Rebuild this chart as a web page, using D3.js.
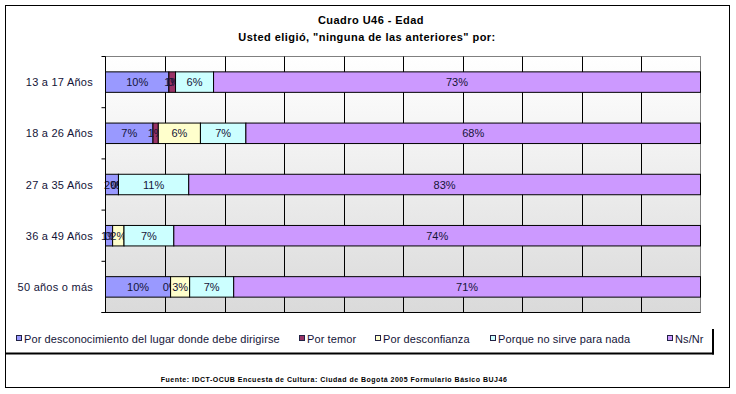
<!DOCTYPE html>
<html>
<head>
<meta charset="utf-8">
<script src="https://cdn.jsdelivr.net/npm/d3@7"></script>
<style>
  body { margin: 0; background: #fff; }
  svg text { font-family: "Liberation Sans", Arial, sans-serif; }
</style>
</head>
<body>
<svg id="chart"></svg>
<script>
// categories (top to bottom)
var categories = ["13 a 17 Años", "18 a 26 Años", "27 a 35 Años", "36 a 49 Años", "50 años o más"];

// series names, in stacking order
var seriesNames = [
  "Por desconocimiento del lugar donde debe dirigirse",
  "Por temor",
  "Por desconfianza",
  "Porque no sirve para nada",
  "Ns/Nr"
];
var seriesColors = ["#9999ff", "#993366", "#ffffcc", "#ccffff", "#cc99ff"];

// values (percent, labels are rounded)
var desconocimiento = [9.5, 7.1, 2.1, 1.0, 9.9];
var temor = [1.0, 0.8, 0.0, 0.0, 0.0];
var desconfianza = [0.0, 6.3, 0.0, 1.6, 2.9];
var noSirve = [5.7, 6.8, 11.4, 7.0, 6.7];
var nsnr = [73, 68, 83, 74, 71];

var xTicks = [0, 0.1, 0.2, 0.3, 0.4, 0.5, 0.6, 0.7, 0.8, 0.9, 1];

var W = 736, H = 394;
var plotL = 105.5, plotR = 700.5, plotT = 56.5, plotB = 312.5;
var textCol = "#141438";

var svg = d3.select("#chart").attr("width", W).attr("height", H);

// build rows for d3.stack
var allSeries = [desconocimiento, temor, desconfianza, noSirve, nsnr];
var rows = categories.map(function(c, i){
  var r = {cat: c};
  seriesNames.forEach(function(s, j){ r[s] = allSeries[j][i]; });
  return r;
});

var stacked = d3.stack()
  .keys(seriesNames)
  .offset(d3.stackOffsetExpand)(rows);

var xScale = d3.scaleLinear().domain([0, 1]).range([plotL, plotR]);
var yScale = d3.scaleBand().domain(categories).range([plotT, plotB]);

// outer frame
svg.append("rect")
  .attr("x", 5.5).attr("y", 5.5)
  .attr("width", 724).attr("height", 382)
  .attr("fill", "#fff").attr("stroke", "#000").attr("stroke-width", 1);

// plot background gradient
var grad = svg.append("defs").append("linearGradient")
  .attr("id", "bg").attr("x1", 0).attr("y1", 0).attr("x2", 0).attr("y2", 1);
grad.append("stop").attr("offset", "0%").attr("stop-color", "#ffffff");
grad.append("stop").attr("offset", "100%").attr("stop-color", "#dadada");

svg.append("rect")
  .attr("x", plotL).attr("y", plotT)
  .attr("width", plotR - plotL).attr("height", plotB - plotT)
  .attr("fill", "url(#bg)")
  .attr("stroke", "#808080");

// vertical gridlines
svg.append("g").selectAll("line")
  .data(xTicks.slice(1, -1))
  .enter().append("line")
  .attr("x1", function(d){ return Math.round(xScale(d)) + 0.5; })
  .attr("x2", function(d){ return Math.round(xScale(d)) + 0.5; })
  .attr("y1", plotT).attr("y2", plotB)
  .attr("stroke", "#000");

// bars
var bandH = yScale.bandwidth();
var barH = bandH * 0.4;

var layers = svg.append("g").selectAll("g")
  .data(stacked)
  .enter().append("g")
  .attr("fill", function(d, i){ return seriesColors[i]; });

layers.selectAll("rect")
  .data(function(d){ return d; })
  .enter().append("rect")
  .attr("x", function(d){ return xScale(d[0]); })
  .attr("y", function(d){ return yScale(d.data.cat) + bandH * 0.3; })
  .attr("width", function(d){ return xScale(d[1]) - xScale(d[0]); })
  .attr("height", barH)
  .attr("stroke", "#000")
  .attr("stroke-width", 1);

// left axis and bottom axis
svg.append("line")
  .attr("x1", plotL).attr("x2", plotL)
  .attr("y1", plotT).attr("y2", plotB)
  .attr("stroke", "#000");
svg.append("line")
  .attr("x1", plotL - 4).attr("x2", plotR)
  .attr("y1", plotB).attr("y2", plotB)
  .attr("stroke", "#000");
var tickYs = categories.map(function(c){ return yScale(c); }).concat([plotB]);
svg.append("g").selectAll("line")
  .data(tickYs)
  .enter().append("line")
  .attr("x1", plotL - 4).attr("x2", plotL)
  .attr("y1", function(d){ return d; }).attr("y2", function(d){ return d; })
  .attr("stroke", "#000");

// data labels
layers.selectAll("text")
  .data(function(d){ return d; })
  .enter().append("text")
  .attr("x", function(d){ return (xScale(d[0]) + xScale(d[1])) / 2; })
  .attr("y", function(d){ return yScale(d.data.cat) + bandH / 2 + 4; })
  .attr("text-anchor", "middle")
  .attr("font-size", "11px")
  .attr("fill", textCol)
  .text(function(d){
    var key = d3.select(this.parentNode).datum().key;
    return Math.round(d.data[key]) + "%";
  });

// category labels
svg.append("g").selectAll("text")
  .data(categories)
  .enter().append("text")
  .attr("x", 93)
  .attr("y", function(d){ return yScale(d) + bandH / 2 + 4; })
  .attr("text-anchor", "end")
  .attr("font-size", "11px")
  .attr("letter-spacing", "0.25px")
  .attr("fill", textCol)
  .text(function(d){ return d; });

// titles
svg.append("text")
  .attr("x", 371).attr("y", 24)
  .attr("text-anchor", "middle")
  .attr("font-size", "11px").attr("font-weight", "bold")
  .attr("letter-spacing", "0.45px")
  .attr("fill", "#000")
  .text("Cuadro U46 - Edad");
svg.append("text")
  .attr("x", 367).attr("y", 41)
  .attr("text-anchor", "middle")
  .attr("font-size", "11px").attr("font-weight", "bold")
  .attr("letter-spacing", "0.45px")
  .attr("fill", "#000")
  .text("Usted eligió, \"ninguna de las anteriores\" por:");

// legend shadow
svg.append("line")
  .attr("x1", 6).attr("x2", 714)
  .attr("y1", 353.5).attr("y2", 353.5)
  .attr("stroke", "#000").attr("stroke-width", 2);
svg.append("line")
  .attr("x1", 713).attr("x2", 713)
  .attr("y1", 329).attr("y2", 354.5)
  .attr("stroke", "#000").attr("stroke-width", 2);

var legendX = [16, 299, 375, 490, 667];
var legend = svg.append("g").selectAll("g")
  .data(seriesNames)
  .enter().append("g")
  .attr("transform", function(d, i){ return "translate(" + legendX[i] + ",335)"; });
legend.append("rect")
  .attr("x", 0.5).attr("y", 0.5)
  .attr("width", 5).attr("height", 5)
  .attr("fill", function(d, i){ return seriesColors[i]; })
  .attr("stroke", "#222244");
legend.append("text")
  .attr("x", 8).attr("y", 8)
  .attr("font-size", "11px")
  .attr("letter-spacing", "0.1px")
  .attr("fill", textCol)
  .text(function(d){ return d; });

// source note
svg.append("text")
  .attr("x", 334).attr("y", 382)
  .attr("text-anchor", "middle")
  .attr("font-size", "7px").attr("font-weight", "bold")
  .attr("letter-spacing", "0.5px")
  .attr("fill", "#000")
  .text("Fuente: IDCT-OCUB Encuesta de Cultura: Ciudad de Bogotá 2005 Formulario Básico BUJ46");
</script>
</body>
</html>
